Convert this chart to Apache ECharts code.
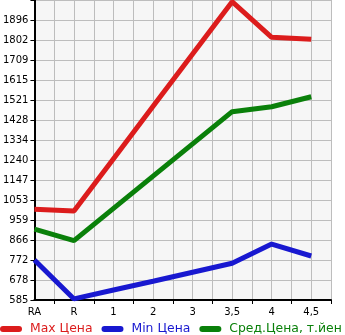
<!DOCTYPE html>
<html><head><meta charset="utf-8">
<script src="https://cdn.jsdelivr.net/npm/echarts@6/dist/echarts.min.js"></script>
<style>html,body{margin:0;padding:0;background:#fff}#c{width:345px;height:335px}</style>
</head><body><div id="c"></div>
<script>
const categories = ['RA','R','1','2','3','3,5','4','4,5'];
const maxPrice = [1010,1002,1247,1492,1737,1982,1815,1806];
const minPrice = [772,590,632,673,715,757,847,791];
const avgPrice = [917,863,1014,1165,1316,1467,1490,1537];
const yTickLabels = ['585','678','772','866','959','1053','1147','1240','1334','1428','1521','1615','1709','1802','1896'];
const seriesNames = ['Max Цена','Min Цена','Сред.Цена, т.йен'];
const colors = ['#dc1c1c','#1818d0','#0a800a'];
const yMin = 585, yMax = 1990, ySteps = 15;
const yStep = (yMax - yMin) / ySteps;
const yGrid = [];
for (let k = 0; k <= ySteps; k++) yGrid.push(yMin + k * yStep);
const xMax = categories.length * 2 - 1;
const xLabelPos = categories.map((c, i) => i * 2);
const xTickPos = [];
for (let v = 1; v <= xMax; v += 2) xTickPos.push(v);
const toPts = arr => arr.map((v, i) => [i * 2, v]);
const font = 'DejaVu Sans';
const chart = echarts.init(document.getElementById('c'));
chart.setOption({
  animation: false,
  textStyle: {fontFamily: font},
  grid: {left: 31, top: 0, width: 300, height: 300, show: true, backgroundColor: '#f6f6f6', borderWidth: 0, containLabel: false},
  xAxis: [{
    type: 'value', min: 0, max: xMax,
    axisLine: {show: true, onZero: false, lineStyle: {color: '#000', width: 2}},
    axisTick: {show: true, customValues: xTickPos, length: 4, lineStyle: {color: '#000'}},
    axisLabel: {customValues: xLabelPos, formatter: v => categories[Math.round(v / 2)], color: '#000', fontSize: 10, margin: 7, fontFamily: font},
    splitLine: {show: false}
  }, {
    type: 'value', min: 0, max: xMax, interval: 1, position: 'bottom',
    axisLine: {show: false}, axisTick: {show: false}, axisLabel: {show: false},
    splitLine: {show: true, lineStyle: {color: '#bdbdbd', width: 1}}
  }],
  yAxis: {
    type: 'value', min: yMin, max: yMax,
    axisLine: {show: true, lineStyle: {color: '#000', width: 2}},
    axisTick: {show: true, customValues: yGrid, length: 4, lineStyle: {color: '#000'}},
    axisLabel: {customValues: yGrid.slice(0, ySteps), formatter: v => yTickLabels[Math.round((v - yMin) / yStep)], color: '#000', fontSize: 10, margin: 6, fontFamily: font},
    splitLine: {show: true, lineStyle: {color: '#bdbdbd', width: 1}}
  },
  legend: {
    bottom: 0, left: 0, padding: 0, itemWidth: 22, itemHeight: 6, itemGap: 9,
    icon: 'path://M3,0 L19,0 A3,3 0 0 1 19,6 L3,6 A3,3 0 0 1 3,0 Z',
    textStyle: {fontSize: 12.4, fontFamily: font, padding: [0, 0, 0, 3]},
    data: seriesNames.map((n, i) => ({name: n, textStyle: {color: colors[i]}}))
  },
  series: [maxPrice, minPrice, avgPrice].map((arr, i) => ({
    name: seriesNames[i], type: 'line', xAxisIndex: 0, data: toPts(arr),
    symbol: 'none', lineStyle: {color: colors[i], width: 5}, itemStyle: {color: colors[i]}
  }))
});
</script></body></html>
